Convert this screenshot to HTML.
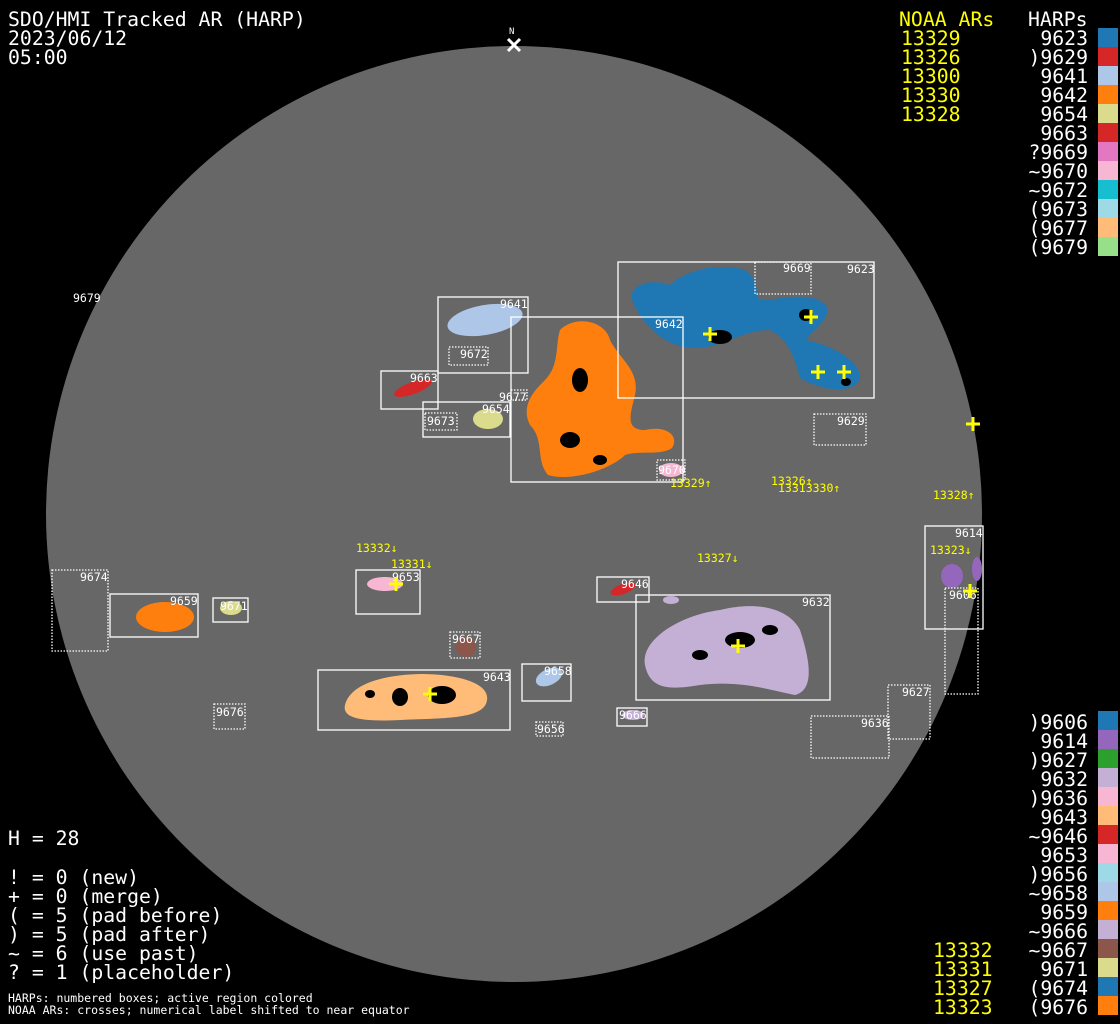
<!DOCTYPE html>
<html><head><meta charset="utf-8"><style>
html,body{margin:0;padding:0;background:#000;}
svg{display:block}
text{font-family:"DejaVu Sans Mono","Liberation Mono",monospace;}
.t{fill:#fff;font-size:19.8px}
.y{fill:#ffff00;font-size:19.8px}
.s{fill:#fff;font-size:11.5px}
.sy{fill:#ffff00;font-size:11.5px}
.b{fill:none;stroke:#fff;stroke-width:1.3}
.d{fill:none;stroke:#fff;stroke-width:1.3;stroke-dasharray:1.5 1.5}
.x{stroke:#ffff00;stroke-width:3;fill:none}
</style></head><body>
<svg width="1120" height="1024" viewBox="0 0 1120 1024" xmlns="http://www.w3.org/2000/svg">
<rect width="1120" height="1024" fill="#000"/>
<circle cx="514" cy="514" r="468" fill="#676767"/>
<path d="M508 39 L520 51 M520 39 L508 51" stroke="#fff" stroke-width="3"/>
<text x="509" y="34" class="s" style="font-size:9px">N</text>

<path d="M632 300 C628 285 650 278 670 285 C685 270 720 262 745 270 C760 280 755 295 760 300 C780 300 810 290 826 305 C832 320 812 330 806 340 C830 345 862 360 860 380 C850 395 820 390 800 378 C795 360 790 340 770 330 C740 330 720 350 690 348 C660 345 640 320 632 300Z" fill="#1f77b4"/>
<path d="M560 330 C575 315 605 320 610 340 C620 360 640 370 635 395 C630 415 625 430 645 430 C665 425 680 435 672 448 C660 456 640 450 625 455 C610 470 570 482 548 475 C535 460 545 440 530 425 C520 405 535 390 545 380 C560 365 555 345 560 330Z" fill="#ff7f0e"/>
<ellipse cx="485" cy="320" rx="38" ry="15" fill="#aec7e8" transform="rotate(-10 485 320)"/>
<ellipse cx="413" cy="388" rx="20" ry="6" fill="#d62728" transform="rotate(-20 413 388)"/>
<ellipse cx="488" cy="419" rx="15" ry="10" fill="#dbdb8d"/>
<ellipse cx="671" cy="470" rx="12" ry="7" fill="#f7b6d2"/>
<ellipse cx="165" cy="617" rx="29" ry="15" fill="#ff7f0e"/>
<ellipse cx="231" cy="608" rx="11" ry="7" fill="#dbdb8d"/>
<ellipse cx="385" cy="584" rx="18" ry="7" fill="#f7b6d2"/>
<ellipse cx="466" cy="647" rx="10" ry="10" fill="#8c564b"/>
<path d="M345 705 C350 685 380 675 420 674 C460 674 490 684 487 700 C485 720 440 718 400 720 C360 722 342 718 345 705Z" fill="#ffbb78"/>
<ellipse cx="549" cy="677" rx="14" ry="8" fill="#aec7e8" transform="rotate(-25 549 677)"/>
<ellipse cx="633" cy="715" rx="11" ry="5" fill="#c5b0d5"/>
<ellipse cx="623" cy="589" rx="13" ry="5" fill="#d62728" transform="rotate(-20 623 589)"/>
<ellipse cx="671" cy="600" rx="8" ry="4" fill="#c5b0d5"/>
<path d="M645 665 C640 640 680 615 720 610 C760 600 790 610 800 630 C810 660 815 690 795 695 C770 690 740 680 700 685 C670 690 650 690 645 665Z" fill="#c5b0d5"/>
<ellipse cx="952" cy="576" rx="11" ry="12" fill="#9467bd"/>
<ellipse cx="977" cy="569" rx="5" ry="12" fill="#9467bd"/>

<g fill="#000">
<ellipse cx="720" cy="337" rx="12" ry="7"/><ellipse cx="806" cy="315" rx="7" ry="6"/><ellipse cx="846" cy="382" rx="5" ry="4"/>
<ellipse cx="442" cy="695" rx="14" ry="9"/><ellipse cx="400" cy="697" rx="8" ry="9"/><ellipse cx="370" cy="694" rx="5" ry="4"/>
<ellipse cx="580" cy="380" rx="8" ry="12"/><ellipse cx="570" cy="440" rx="10" ry="8"/><ellipse cx="600" cy="460" rx="7" ry="5"/>
<ellipse cx="740" cy="640" rx="15" ry="8"/><ellipse cx="700" cy="655" rx="8" ry="5"/><ellipse cx="770" cy="630" rx="8" ry="5"/>
</g>

<rect class="b" x="618" y="262" width="256" height="136"/>
<rect class="d" x="755" y="262" width="56" height="32"/>
<rect class="b" x="511" y="317" width="172" height="165"/>
<rect class="b" x="438" y="297" width="90" height="76"/>
<rect class="d" x="449" y="347" width="39" height="18"/>
<rect class="b" x="381" y="371" width="57" height="38"/>
<rect class="b" x="423" y="402" width="87" height="35"/>
<rect class="d" x="425" y="413" width="32" height="17"/>
<rect class="d" x="511" y="390" width="16" height="10"/>
<rect class="d" x="814" y="414" width="52" height="31"/>
<rect class="d" x="657" y="460" width="28" height="20"/>
<rect class="d" x="52" y="570" width="56" height="81"/>
<rect class="b" x="110" y="594" width="88" height="43"/>
<rect class="b" x="213" y="598" width="35" height="24"/>
<rect class="b" x="356" y="570" width="64" height="44"/>
<rect class="d" x="450" y="632" width="30" height="26"/>
<rect class="b" x="318" y="670" width="192" height="60"/>
<rect class="b" x="522" y="664" width="49" height="37"/>
<rect class="d" x="536" y="722" width="27" height="14"/>
<rect class="b" x="617" y="708" width="30" height="18"/>
<rect class="d" x="214" y="704" width="31" height="25"/>
<rect class="b" x="597" y="577" width="52" height="25"/>
<rect class="b" x="636" y="595" width="194" height="105"/>
<rect class="b" x="925" y="526" width="58" height="103"/>
<rect class="d" x="945" y="588" width="33" height="106"/>
<rect class="d" x="888" y="685" width="42" height="54"/>
<rect class="d" x="811" y="716" width="78" height="42"/>

<g class="s">
<text x="847" y="273">9623</text><text x="783" y="272">9669</text><text x="655" y="328">9642</text>
<text x="500" y="308">9641</text><text x="460" y="358">9672</text><text x="410" y="382">9663</text>
<text x="482" y="413">9654</text><text x="427" y="425">9673</text><text x="499" y="401">9677</text>
<text x="837" y="425">9629</text><text x="658" y="474">9670</text><text x="80" y="581">9674</text>
<text x="170" y="605">9659</text><text x="220" y="610">9671</text><text x="392" y="581">9653</text>
<text x="452" y="643">9667</text><text x="483" y="681">9643</text><text x="544" y="675">9658</text>
<text x="537" y="733">9656</text><text x="619" y="719">9666</text><text x="216" y="716">9676</text>
<text x="621" y="588">9646</text><text x="802" y="606">9632</text><text x="955" y="537">9614</text>
<text x="949" y="599">9606</text><text x="902" y="696">9627</text><text x="861" y="727">9636</text>
<text x="73" y="302">9679</text>
</g>

<g class="x">
<path d="M703 334h14M710 327v14"/><path d="M804 317h14M811 310v14"/><path d="M811 372h14M818 365v14"/>
<path d="M837 372h14M844 365v14"/><path d="M966 424h14M973 417v14"/><path d="M731 646h14M738 639v14"/>
<path d="M423 694h14M430 687v14"/><path d="M389 584h14M396 577v14"/><path d="M963 591h14M970 584v14"/>
</g>
<g class="sy">
<text x="670" y="487">13329↑</text><text x="771" y="485">13326↑</text><text x="778" y="492">13313330↑</text>
<text x="933" y="499">13328↑</text><text x="356" y="552">13332↓</text><text x="391" y="568">13331↓</text>
<text x="697" y="562">13327↓</text><text x="930" y="554">13323↓</text>
</g>

<text class="t" x="8" y="26">SDO/HMI Tracked AR (HARP)</text>
<text class="t" x="8" y="45">2023/06/12</text>
<text class="t" x="8" y="64">05:00</text>

<text class="y" x="899" y="26">NOAA ARs</text>
<text class="t" x="1028" y="26">HARPs</text>
<g class="y"><text x="901" y="45">13329</text><text x="901" y="64">13326</text><text x="901" y="83">13300</text><text x="901" y="102">13330</text><text x="901" y="121">13328</text></g>
<g class="t" text-anchor="end">
<text x="1088" y="45">9623</text><text x="1088" y="64">)9629</text><text x="1088" y="83">9641</text><text x="1088" y="102">9642</text>
<text x="1088" y="121">9654</text><text x="1088" y="140">9663</text><text x="1088" y="159">?9669</text><text x="1088" y="178">~9670</text>
<text x="1088" y="197">~9672</text><text x="1088" y="216">(9673</text><text x="1088" y="235">(9677</text><text x="1088" y="254">(9679</text>
</g>
<g>
<rect x="1098" y="28" width="20" height="19" fill="#1f77b4"/><rect x="1098" y="47" width="20" height="19" fill="#d62728"/>
<rect x="1098" y="66" width="20" height="19" fill="#aec7e8"/><rect x="1098" y="85" width="20" height="19" fill="#ff7f0e"/>
<rect x="1098" y="104" width="20" height="19" fill="#dbdb8d"/><rect x="1098" y="123" width="20" height="19" fill="#d62728"/>
<rect x="1098" y="142" width="20" height="19" fill="#e377c2"/><rect x="1098" y="161" width="20" height="19" fill="#f7b6d2"/>
<rect x="1098" y="180" width="20" height="19" fill="#17becf"/><rect x="1098" y="199" width="20" height="19" fill="#9edae5"/>
<rect x="1098" y="218" width="20" height="19" fill="#ffbb78"/><rect x="1098" y="237" width="20" height="19" fill="#98df8a"/>
</g>

<g class="t" text-anchor="end">
<text x="1088" y="729">)9606</text><text x="1088" y="748">9614</text><text x="1088" y="767">)9627</text><text x="1088" y="786">9632</text>
<text x="1088" y="805">)9636</text><text x="1088" y="824">9643</text><text x="1088" y="843">~9646</text><text x="1088" y="862">9653</text>
<text x="1088" y="881">)9656</text><text x="1088" y="900">~9658</text><text x="1088" y="919">9659</text><text x="1088" y="938">~9666</text>
<text x="1088" y="957">~9667</text><text x="1088" y="976">9671</text><text x="1088" y="995">(9674</text><text x="1088" y="1014">(9676</text>
</g>
<g>
<rect x="1098" y="711" width="20" height="19" fill="#1f77b4"/><rect x="1098" y="730" width="20" height="19" fill="#9467bd"/>
<rect x="1098" y="749" width="20" height="19" fill="#2ca02c"/><rect x="1098" y="768" width="20" height="19" fill="#c5b0d5"/>
<rect x="1098" y="787" width="20" height="19" fill="#f7b6d2"/><rect x="1098" y="806" width="20" height="19" fill="#ffbb78"/>
<rect x="1098" y="825" width="20" height="19" fill="#d62728"/><rect x="1098" y="844" width="20" height="19" fill="#f7b6d2"/>
<rect x="1098" y="863" width="20" height="19" fill="#9edae5"/><rect x="1098" y="882" width="20" height="19" fill="#aec7e8"/>
<rect x="1098" y="901" width="20" height="19" fill="#ff7f0e"/><rect x="1098" y="920" width="20" height="19" fill="#c5b0d5"/>
<rect x="1098" y="939" width="20" height="19" fill="#8c564b"/><rect x="1098" y="958" width="20" height="19" fill="#dbdb8d"/>
<rect x="1098" y="977" width="20" height="19" fill="#1f77b4"/><rect x="1098" y="996" width="20" height="19" fill="#ff7f0e"/>
</g>
<g class="y"><text x="933" y="957">13332</text><text x="933" y="976">13331</text><text x="933" y="995">13327</text><text x="933" y="1014">13323</text></g>

<text class="t" x="8" y="845">H = 28</text>
<text class="t" x="8" y="884">! = 0 (new)</text>
<text class="t" x="8" y="903">+ = 0 (merge)</text>
<text class="t" x="8" y="922">( = 5 (pad before)</text>
<text class="t" x="8" y="941">) = 5 (pad after)</text>
<text class="t" x="8" y="960">~ = 6 (use past)</text>
<text class="t" x="8" y="979">? = 1 (placeholder)</text>
<text class="s" x="8" y="1002">HARPs: numbered boxes; active region colored</text>
<text class="s" x="8" y="1014">NOAA ARs: crosses; numerical label shifted to near equator</text>
</svg>
</body></html>
